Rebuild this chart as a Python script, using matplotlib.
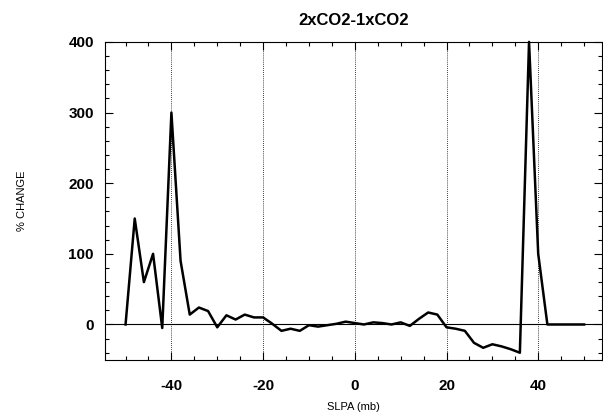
import matplotlib.pyplot as plt
from matplotlib.ticker import MultipleLocator
import numpy as np

plt.rcParams["font.family"] = ["Liberation Sans", "DejaVu Sans"]
plt.rcParams["axes.unicode_minus"] = False

# sea level pressure anomaly (mb) and % change
slpa = np.arange(-50, 52, 2)
pct_change = [
    0, 150, 60, 100, -5, 300, 90, 14, 24, 19,
    -4, 13, 7, 14, 10, 10, 1, -9, -6, -9,
    -1, -3, -1, 1, 4, 2, 0, 3, 2, 0,
    3, -2, 8, 17, 14, -4, -6, -9, -26, -33,
    -28, -31, -35, -40, 400, 100, 0, 0, 0, 0,
    0,
]
x_ticks = [-40, -20, 0, 20, 40]
y_ticks = [0, 100, 200, 300, 400]

fig = plt.figure(figsize=(6.03, 4.15), dpi=100)
ax = fig.add_axes([0.174, 0.133, 0.825, 0.766])

ax.plot(slpa, pct_change, color="black", lw=1.8, zorder=3, clip_on=False)
ax.axhline(0, color="black", lw=0.8, zorder=2)
for xv in x_ticks:
    ax.axvline(xv, color="black", lw=0.6, ls=(0, (1, 1.5)), zorder=1)

ax.set_xlim(-54.5, 54)
ax.set_ylim(-50, 400)
ax.set_xticks(x_ticks)
ax.set_yticks(y_ticks)
ax.xaxis.set_minor_locator(MultipleLocator(5))
ax.yaxis.set_minor_locator(MultipleLocator(20))
ax.tick_params(which="both", direction="in", top=True, right=True, width=0.8)
ax.tick_params(which="major", length=6, labelsize=11, pad=14)
ax.tick_params(which="minor", length=3)
ax.tick_params(axis="y", pad=8)
for lab in ax.get_xticklabels() + ax.get_yticklabels():
    lab.set_fontweight("bold")

for s in ax.spines.values():
    s.set_linewidth(0.8)

ax.set_title("2xCO2-1xCO2", fontsize=12, fontweight="bold", pad=12)
ax.set_xlabel("SLPA (mb)", fontsize=8, labelpad=6)
ax.set_ylabel("% CHANGE", fontsize=8, labelpad=30)

fig.savefig("out.png", dpi=100)
